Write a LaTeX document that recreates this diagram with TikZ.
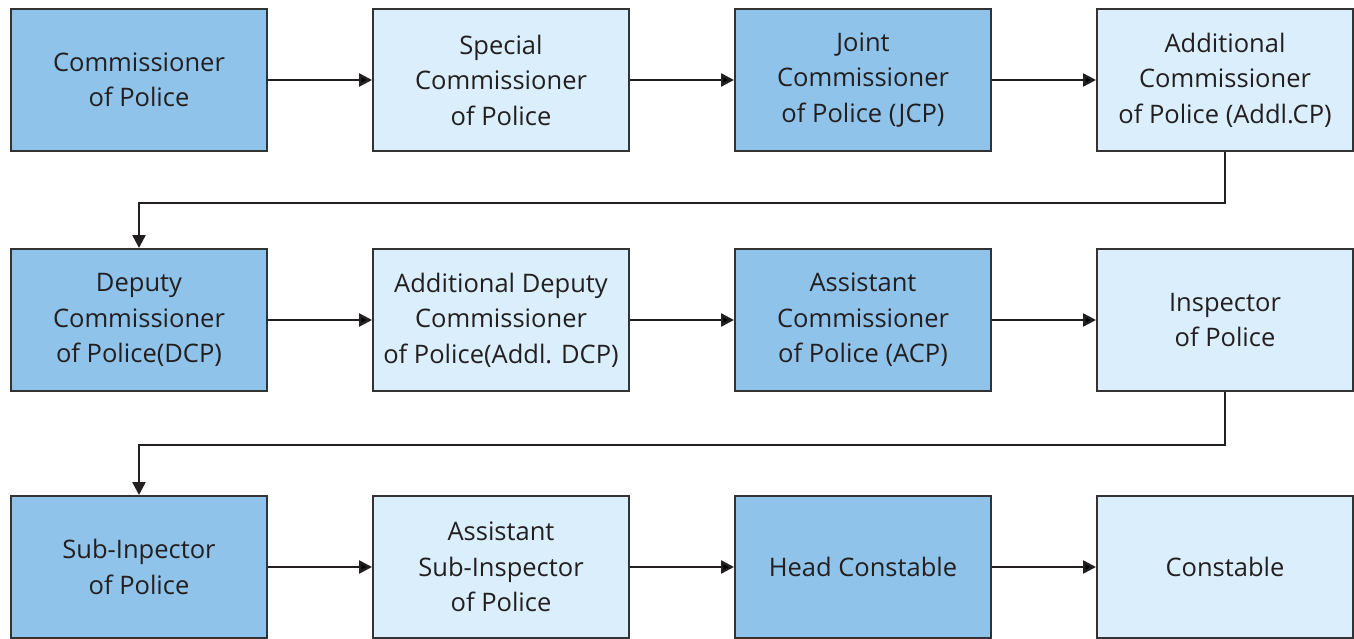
\documentclass[tikz,border=0pt]{standalone}
\usepackage{fontspec}
\setmainfont{Open Sans}
\usetikzlibrary{arrows.meta,positioning}

\definecolor{rankdark}{HTML}{8FC3E9}
\definecolor{ranklight}{HTML}{DAEFFB}
\definecolor{rankline}{HTML}{333333}
\definecolor{ranktext}{HTML}{231F20}

\tikzset{
  rank/.style={draw=rankline, line width=2pt, minimum width=256pt, minimum height=142pt,
    align=center, text=ranktext, font=\fontsize{25.5}{35.5}\selectfont, inner sep=0pt},
  darkrank/.style={rank, fill=rankdark},
  lightrank/.style={rank, fill=ranklight},
}

\begin{document}
\begin{tikzpicture}[x=1pt,y=1pt,>={Triangle[length=13pt,width=13pt]},line width=2.5pt,node distance=106pt and 104pt]

            \useasboundingbox (0,0) rectangle (1354,-639);

            % first row
            \node[darkrank] (cp) at (139,-80) {Commissioner\\of Police};
            \node[lightrank] (scp) [right=of cp] {Special\\Commissioner\\of Police};
            \node[darkrank] (jcp) [right=of scp] {Joint\\Commissioner\\of Police (JCP)};
            \node[lightrank] (acp) [right=of jcp] {Additional\\Commissioner\\of Police (Addl.CP)};

            % second row
            \node[darkrank] (dcp) at (139,-320) {Deputy\\Commissioner\\of Police(DCP)};
            \node[lightrank] (adcp) [right=of dcp] {Additional Deputy\\Commissioner\\of Police(Addl. DCP)};
            \node[darkrank] (ascp) [right=of adcp] {Assistant\\Commissioner\\of Police (ACP)};
            \node[lightrank] (ip) [right=of ascp] {Inspector\\of Police};

            % third row
            \node[darkrank] (si) at (139,-567) {Sub-Inpector\\of Police};
            \node[lightrank] (asi) [right=of si] {Assistant\\Sub-Inspector\\of Police};
            \node[darkrank] (hc) [right=of asi] {Head Constable};
            \node[lightrank] (con) [right=of hc] {Constable};

            \path[->, draw=ranktext] (cp) edge (scp)
                      (scp) edge (jcp)
                      (jcp) edge (acp)
                      (dcp) edge (adcp)
                      (adcp) edge (ascp)
                      (ascp) edge (ip)
                      (si) edge (asi)
                      (asi) edge (hc)
                      (hc) edge (con);

            \draw[->, draw=ranktext] (acp.south) -- ++(0,-51) -| (dcp.north);
            \draw[->, draw=ranktext] (ip.south) -- ++(0,-53) -| (si.north);

        \end{tikzpicture}
\end{document}
